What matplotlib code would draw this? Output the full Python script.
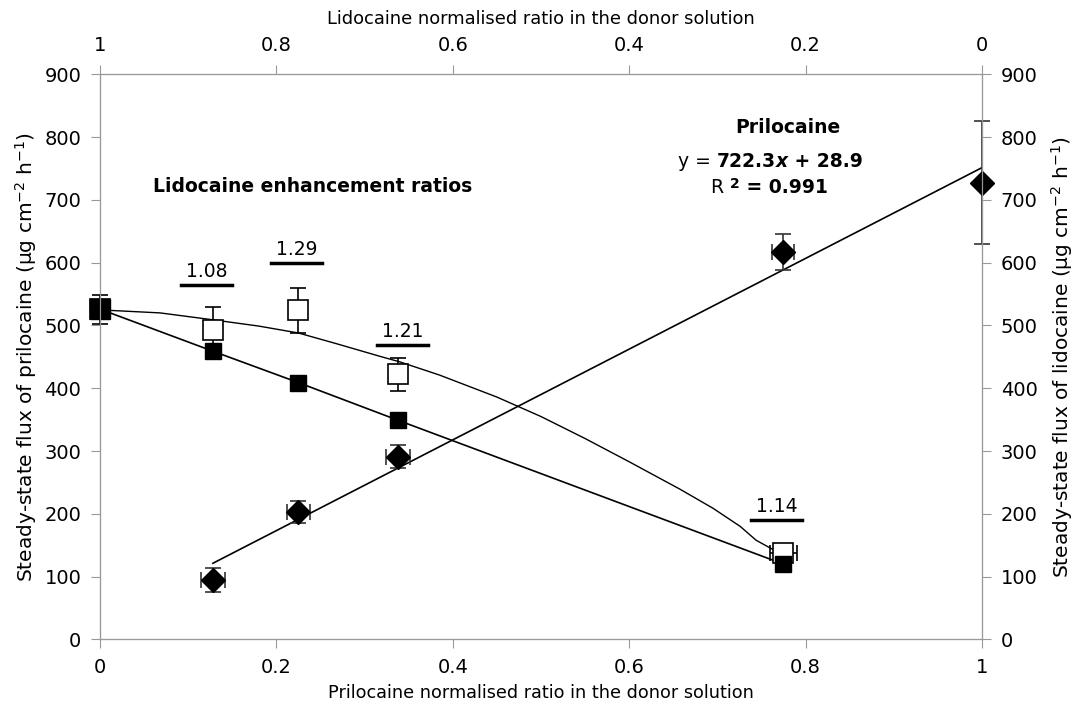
import matplotlib
matplotlib.use('Agg')
import matplotlib.pyplot as plt

plt.rcParams['font.family'] = ['DejaVu Sans']
plt.rcParams['mathtext.default'] = 'regular'

# prilocaine flux (diamonds)
pri_x = [0.128, 0.225, 0.338, 0.775, 1.0]
pri_y = [95, 203, 291, 617, 727]
pri_yerr = [19, 17, 18, 28, 98]
pri_xerr = [0.0135, 0.0135, 0.0135, 0.0125, 0.0]

# lidocaine flux measured (open squares)
lid_x = [0.0, 0.128, 0.225, 0.338, 0.775]
lid_y = [526, 493, 524, 422, 137]
lid_yerr = [23, 37, 36, 26, 8]
lid_xerr = [0.0, 0.0, 0.0, 0.0, 0.015]

# lidocaine flux expected (filled squares)
exp_x = [0.0, 0.128, 0.225, 0.338, 0.775]
exp_y = [526, 459, 409, 349, 120]

# theoretical curve
curve_x = [0.0, 0.011, 0.068, 0.128, 0.18, 0.225, 0.268, 0.317, 0.34, 0.385,
           0.45, 0.5, 0.55, 0.6, 0.658, 0.695, 0.726, 0.744, 0.775]
curve_y = [526, 524, 520, 509, 499, 488, 471, 451, 442, 421,
           386, 355, 320, 283, 239, 209, 180, 158, 134]

# regression y = 722.3x + 28.9
fit_x = [0.128, 1.0]
fit_y = [722.3 * v + 28.9 for v in fit_x]

# enhancement ratio labels
ratio_txt = ['1.08', '1.29', '1.21', '1.14']
ratio_x = [0.121, 0.223, 0.343, 0.767]
ratio_y = [564, 599, 469, 190]

fig = plt.figure(figsize=(10.79, 7.07), dpi=100)
ax = fig.add_axes([0.0927, 0.0955, 0.8173, 0.7995])

ax.plot(curve_x, curve_y, color='black', lw=1.0, zorder=2)
ax.plot(fit_x, fit_y, color='black', lw=1.2, zorder=2)
ax.plot(exp_x, exp_y, color='black', lw=1.2, zorder=2)

ax.errorbar(lid_x, lid_y, yerr=lid_yerr, xerr=lid_xerr, fmt='s', ms=14,
            mfc='white', mec='black', mew=1.2, ecolor='black', elinewidth=1.2,
            capsize=6, capthick=1.2, zorder=3, clip_on=False)
ax.plot(exp_x[:1], exp_y[:1], 's', ms=15, color='black', zorder=4,
        clip_on=False)
ax.plot(exp_x[1:], exp_y[1:], 's', ms=11, color='black', zorder=4)
ax.errorbar(pri_x, pri_y, yerr=pri_yerr, xerr=pri_xerr, fmt='D', ms=12,
            color='black', ecolor='#333333', elinewidth=1.2, capsize=6,
            capthick=1.2, zorder=4, clip_on=False)

for t, x, y in zip(ratio_txt, ratio_x, ratio_y):
    ax.text(x, y + 7, t, ha='center', va='bottom', fontsize=13.5)
    ax.plot([x - 0.029, x + 0.029], [y, y], color='black', lw=2.5)

ax.text(0.06, 722, 'Lidocaine enhancement ratios', fontsize=13.5,
        fontweight='bold', va='center')
ax.text(0.78, 815, 'Prilocaine', fontsize=13.5, fontweight='bold',
        ha='center', va='center')

t1 = ax.text(0.655, 752, 'y = ', fontsize=13.5, va='baseline')
t2 = ax.annotate('722.3', xy=(1, 0), xycoords=t1, fontsize=13.5,
                 fontweight='bold', va='bottom')
t3 = ax.annotate('x', xy=(1, 0), xycoords=t2, fontsize=13.5,
                 fontweight='bold', style='italic', va='bottom')
ax.annotate(' + 28.9', xy=(1, 0), xycoords=t3, fontsize=13.5,
            fontweight='bold', va='bottom')

r1 = ax.text(0.693, 711, 'R ', fontsize=13.5, va='baseline')
r2 = ax.annotate('2', xy=(1, 0.3), xycoords=r1, fontsize=10,
                 fontweight='bold', va='bottom')
ax.annotate(' = 0.991', xy=(1, 0), xycoords=r2, xytext=(0, -4),
            textcoords='offset points', fontsize=13.5,
            fontweight='bold', va='bottom')

ax.set_xlim(0, 1)
ax.set_ylim(0, 900)
ax.set_xticks([0, 0.2, 0.4, 0.6, 0.8, 1])
ax.set_xticklabels(['0', '0.2', '0.4', '0.6', '0.8', '1'])
ax.set_yticks(range(0, 901, 100))
ax.set_xlabel('Prilocaine normalised ratio in the donor solution',
              fontsize=12.7, labelpad=5)
ax.set_ylabel(r'Steady-state flux of prilocaine (μg cm$^{-2}$ h$^{-1}$)',
              fontsize=14.5, labelpad=4)

ax2 = ax.twinx()
ax2.set_ylim(0, 900)
ax2.set_yticks(range(0, 901, 100))
ax2.set_ylabel(r'Steady-state flux of lidocaine (μg cm$^{-2}$ h$^{-1}$)',
               fontsize=14.5, labelpad=8)

ax3 = ax.twiny()
ax3.set_xlim(1, 0)
ax3.set_xticks([1, 0.8, 0.6, 0.4, 0.2, 0])
ax3.set_xticklabels(['1', '0.8', '0.6', '0.4', '0.2', '0'])
ax3.set_xlabel('Lidocaine normalised ratio in the donor solution',
               fontsize=12.9, labelpad=9)

for a in (ax, ax2, ax3):
    for s in a.spines.values():
        s.set_color('#999999')
    a.tick_params(direction='out', length=6.5, color='#999999',
                  labelsize=14, pad=7)

fig.savefig('out.png', dpi=100)
